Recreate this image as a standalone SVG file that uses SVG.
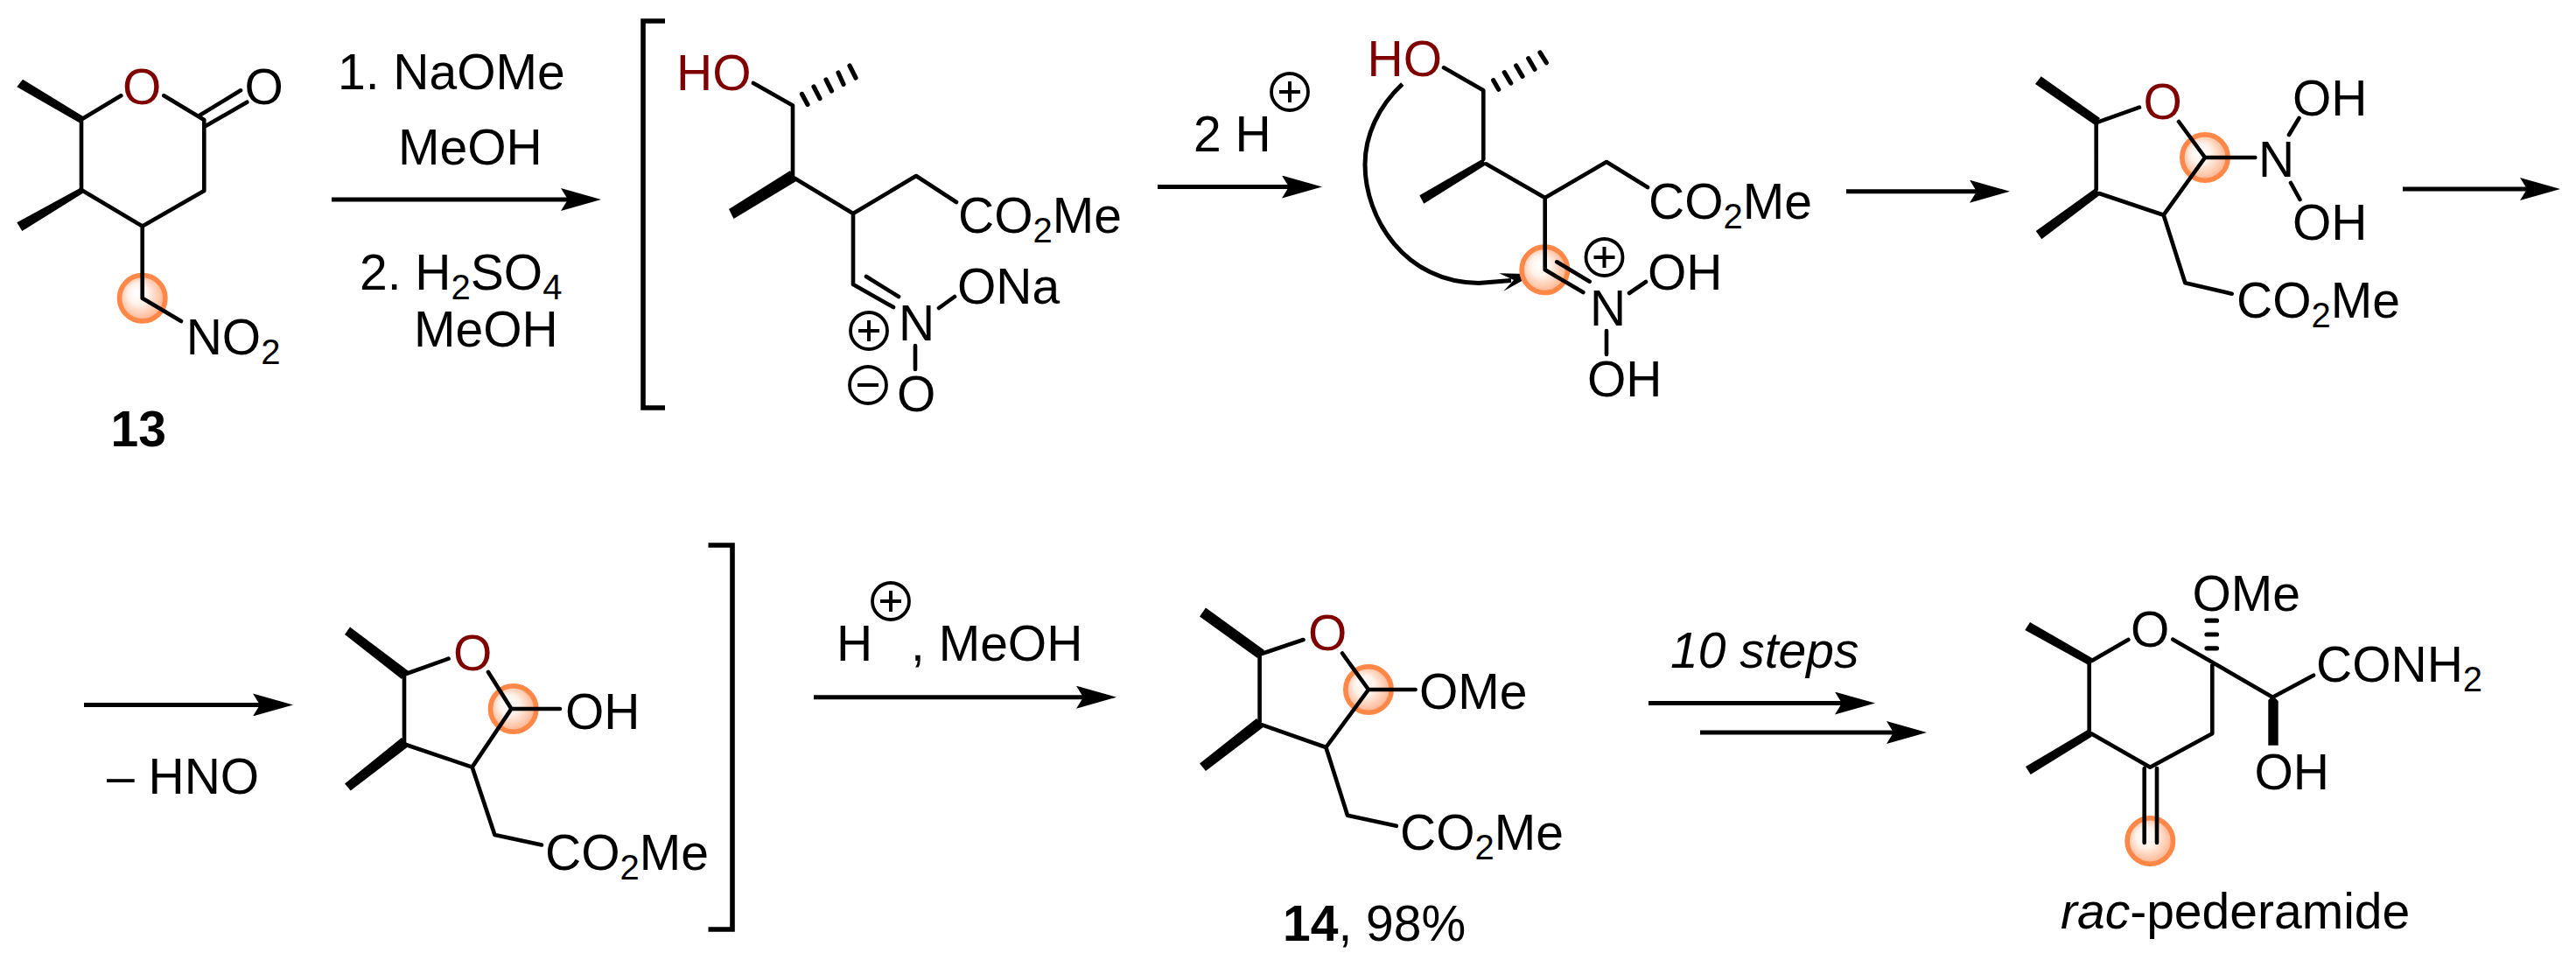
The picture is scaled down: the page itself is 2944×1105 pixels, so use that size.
<svg xmlns="http://www.w3.org/2000/svg" width="2944" height="1105" viewBox="0 0 2944 1105">
<style>
text{font-family:"Liberation Sans",Arial,sans-serif;font-size:57px;fill:#000}
.r{fill:#7f0000}
.bd{font-weight:bold}
.i{font-style:italic}
.s{font-size:40px}
.b{fill:none;stroke:#000;stroke-width:4.6;stroke-linecap:round;stroke-linejoin:round}
.h{fill:none;stroke:#000;stroke-width:5.2;stroke-linecap:round}
.w{fill:#000;stroke:none}
.a{fill:none;stroke:#000;stroke-width:5;marker-end:url(#ah)}
.c{fill:none;stroke:#000;stroke-width:3.8}
.p{fill:none;stroke:#000;stroke-width:4}
.o{fill:url(#og);stroke:#ff8748;stroke-width:5.6}
.k{fill:none;stroke:#000;stroke-width:5.6}
</style>
<defs>
<radialGradient id="og" cx="0.5" cy="0.5" r="0.62" fx="0.36" fy="0.36">
<stop offset="0" stop-color="#ffffff"/><stop offset="0.35" stop-color="#fff3ec"/><stop offset="1" stop-color="#ff9d6c"/>
</radialGradient>
<marker id="ah" markerUnits="userSpaceOnUse" viewBox="0 0 46 26" refX="16" refY="13" markerWidth="46" markerHeight="26" orient="auto"><path d="M0 0L46 13L0 26L8 13Z" fill="#000"/></marker>
<g id="plus"><circle class="c" r="21"/><path class="p" d="M-12 0H12M0 -12V12"/></g>
<g id="minus"><circle class="c" r="21"/><path class="p" d="M-12 0H12"/></g>
</defs>
<rect width="2944" height="1105" fill="#fff"/>

<g id="connectors">
<path class="a" d="M379 228H657"/>
<path class="a" d="M1323 213.500H1481"/>
<path class="a" d="M2110 218.700H2267"/>
<path class="a" d="M2746 216H2896"/>
<path class="a" d="M96 805.400H305"/>
<path class="a" d="M930 796.700H1246"/>
<path class="a" d="M1884 803.600H2113"/>
<path class="a" d="M1943 837H2172"/>
<path fill="none" stroke="#000" stroke-width="5" d="M1602.700 96C1575 122 1560 155 1560 188C1560 250 1606 323 1690 323.500L1727 320.500"/>
<path class="w" d="M1753.300 313.300L1713.300 312.300L1730 320L1718.300 332.700Z"/>
</g>

<g id="compound-13">
<ellipse class="o" cx="162.700" cy="340.700" rx="26.200" ry="26.200"/>
<path class="w" d="M19.300 99.300L26 90.700L95 133L92 141Z"/>
<path class="w" d="M92.700 214.300L96 220L25.300 264L19.300 254.300Z"/>
<path class="b" d="M138.300 109.300L93 136.500V217L162.700 258.500L233.300 218V137L187.300 109.300M228.300 131.700L275 103.300M235 144L282.300 116.700M162.700 258.500V340.700L207 367"/>
<text class="r" x="140" y="118.700">O</text><text x="279.500" y="118.700">O</text>
<text x="212.700" y="404.500">NO<tspan class="s" dy="11">2</tspan></text>
<text class="bd" x="126.500" y="510">13</text>
</g>

<g id="conditions-1">
<text x="386" y="102">1. NaOMe</text>
<text x="455" y="188">MeOH</text>
<text x="411" y="331">2. H<tspan class="s" dy="11">2</tspan><tspan dy="-11">SO</tspan><tspan class="s" dy="11">4</tspan></text>
<text x="473" y="396">MeOH</text>
</g>

<g id="intermediate-nitronate">
<path class="k" d="M760 24H735V466H760"/>
<path class="w" d="M903 195L910 207L838.500 250L833 239Z"/>
<path class="b" d="M861 95L906 120.500V201M907 203L975 244L1047 201L1093 231M975 244V325L1021 351M990 316L1027 339M1073 352L1091 339M1046 395V422"/>
<path class="h" d="M916.500 107.400L923 119.500M930 99L937 112.600M944 91L950.500 104M958 83L964 96.400M971 75L978 89"/>
<text class="r" x="773" y="103">HO</text>
<text x="1095" y="266">CO<tspan class="s" dy="11">2</tspan><tspan dy="-11">Me</tspan></text>
<text x="1094" y="347">ONa</text>
<text x="1027" y="389">N</text>
<text x="1025" y="470">O</text>
<use href="#plus" x="993" y="378"/>
<use href="#minus" x="992" y="440"/>
</g>

<g id="conditions-2">
<text x="1364" y="173">2 H</text>
<use href="#plus" x="1474" y="105"/>
</g>

<g id="intermediate-oxonium">
<ellipse class="o" cx="1765.300" cy="308.300" rx="26.200" ry="26.200"/>
<path class="w" d="M1694.300 181.700L1698.300 188.300L1627.300 232.700L1622.300 223.300Z"/>
<path class="b" d="M1650 77.300L1695.300 103.300V182M1698.300 187.300L1765.700 226L1836 185L1883 214M1765.700 226V308.300L1809.300 334M1779.300 299.300L1816.700 321.700M1862 335L1881 322M1836 378V405"/>
<path class="h" d="M1706.700 91.700L1712.700 102.300M1719.300 82.700L1726.700 95M1732.700 75L1740 87.300M1746.700 66.700L1754 79.300M1760 60L1767.300 71.700"/>
<text class="r" x="1562.500" y="86.500">HO</text>
<text x="1884" y="250">CO<tspan class="s" dy="11">2</tspan><tspan dy="-11">Me</tspan></text>
<text x="1817" y="372">N</text>
<text x="1883" y="331">OH</text>
<text x="1814" y="453">OH</text>
<use href="#plus" x="1833.500" y="294"/>
</g>

<g id="intermediate-hemiaminal">
<ellipse class="o" cx="2520" cy="180" rx="26.200" ry="26.200"/>
<path class="w" d="M2326 96L2332.700 87.300L2400 135L2394 142.700Z"/>
<path class="w" d="M2395 215L2400 222.700L2333.300 273.300L2326.700 264Z"/>
<path class="b" d="M2445 122.700L2398 139.300M2395.700 140V216.700M2399 221L2472.700 245.700L2520 180L2490 139M2520 180H2577.300M2627.500 135L2616 154M2618 209L2628.500 228M2472.700 245.700L2497.300 323.300L2550.700 335.700"/>
<text class="r" x="2449.500" y="135.600">O</text>
<text x="2581" y="202">N</text>
<text x="2620" y="132">OH</text>
<text x="2620" y="274">OH</text>
<text x="2556" y="362.600">CO<tspan class="s" dy="11">2</tspan><tspan dy="-11">Me</tspan></text>
</g>

<g id="conditions-3">
<text x="122" y="907">– HNO</text>
</g>

<g id="intermediate-hemiacetal">
<ellipse class="o" cx="586.700" cy="810" rx="26.200" ry="26.200"/>
<path class="w" d="M394 725L400 716.500L467 767L459 776Z"/>
<path class="w" d="M459 843L468 852L400.700 903.500L394 895.600Z"/>
<path class="b" d="M512.600 752.700L464 770M462 771.600V847.400M464 851L539.600 876.600L584.400 810L558 768M584.400 810H640M539.600 876.600L565.400 954L619 965.500"/>
<path class="k" d="M809.500 623H837V1062H809.500"/>
<text class="r" x="518" y="766.400">O</text>
<text x="646" y="833">OH</text>
<text x="623" y="993.700">CO<tspan class="s" dy="11">2</tspan><tspan dy="-11">Me</tspan></text>
</g>

<g id="conditions-4">
<text x="956" y="755.400">H</text>
<use href="#plus" x="1018" y="687"/>
<text x="1041" y="755.400">, MeOH</text>
</g>

<g id="compound-14">
<ellipse class="o" cx="1564" cy="788" rx="26.200" ry="26.200"/>
<path class="w" d="M1371 704.500L1378 694.500L1445 743L1437 752Z"/>
<path class="w" d="M1436 821L1445 830L1378 881L1371 872.500Z"/>
<path class="b" d="M1489.500 731L1442 747M1439.600 747.500V825M1442.500 828.400L1515.400 854L1564 788L1534 746.500M1564 788H1617.600M1515.400 854L1540 931.700L1595.800 943.800"/>
<text class="r" x="1495" y="743.400">O</text>
<text x="1622" y="809.500">OMe</text>
<text x="1600" y="970.600">CO<tspan class="s" dy="11">2</tspan><tspan dy="-11">Me</tspan></text>
<text x="1466" y="1075"><tspan class="bd">14</tspan>, 98%</text>
</g>

<g id="conditions-5">
<text class="i" x="1909" y="763">10 steps</text>
</g>

<g id="rac-pederamide">
<ellipse class="o" cx="2457.300" cy="961" rx="26.200" ry="26.200"/>
<path class="w" d="M2314.300 720L2320 711L2391 752L2387 760Z"/>
<path class="w" d="M2386 834L2390.700 841.700L2320.700 885L2315 876Z"/>
<path class="b" d="M2432.300 731L2390.700 755M2387.700 757V835M2390 838.300L2457.300 876.700L2528.300 838.300V757M2483.300 730.700L2597.300 796.700L2644 771.700M2450.700 878V963M2465 878V963"/>
<path class="w" d="M2597.500 795L2603.700 801V851.700H2592.300V800Z"/>
<path class="h" d="M2522 740.800H2533.500M2522 725H2533.500M2522 709.200H2533.500"/>
<text x="2435" y="738.600">O</text>
<text x="2505.500" y="697.800">OMe</text>
<text x="2647" y="779">CONH<tspan class="s" dy="11">2</tspan></text>
<text x="2576.500" y="902">OH</text>
<text x="2355" y="1061"><tspan class="i">rac</tspan>-pederamide</text>
</g>
</svg>
